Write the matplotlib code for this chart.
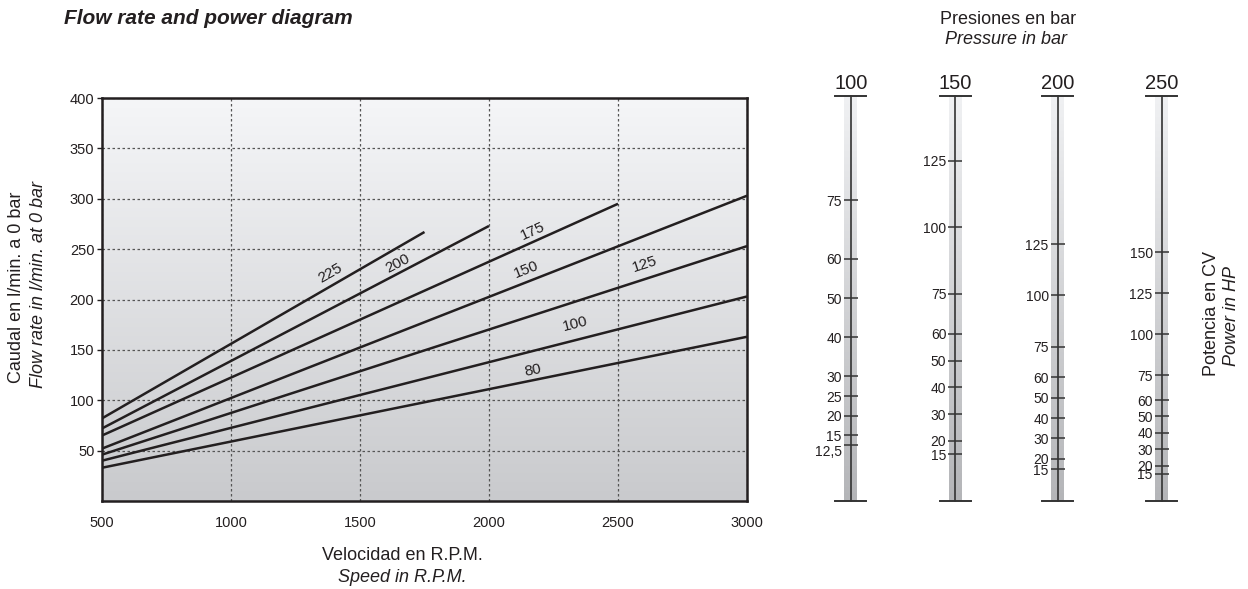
import numpy as np
import matplotlib.pyplot as plt
from matplotlib.colors import LinearSegmentedColormap

plt.rcParams['font.family'] = ['Liberation Sans', 'DejaVu Sans']

# curvas de caudal por presion (bar): caudal en l/min al inicio y al final
curve_pressures = [225, 200, 175, 150, 125, 100, 80]
rpm_start = [500, 500, 500, 500, 500, 500, 500]
rpm_end = [1750, 2000, 2500, 3000, 3000, 3000, 3000]
flow_start = [82, 72, 65, 52, 46, 40, 33]
flow_end = [267, 273, 295, 303, 253, 203, 163]

# donde va la etiqueta de cada curva
label_rpm = [1384, 1646, 2170, 2146, 2605, 2336, 2172]
label_flow = [226, 236, 268, 230, 235, 176, 130]

x_ticks = [500, 1000, 1500, 2000, 2500, 3000]
y_ticks = [50, 100, 150, 200, 250, 300, 350, 400]

# escalas de potencia (CV) para cada presion
scale_pressures = [100, 150, 200, 250]
scale_ticks = [
    [75, 60, 50, 40, 30, 25, 20, 15, 12.5],
    [125, 100, 75, 60, 50, 40, 30, 20, 15],
    [125, 100, 75, 60, 50, 40, 30, 20, 15],
    [150, 125, 100, 75, 60, 50, 40, 30, 20, 15],
]

# layout (pixeles)
W, H = 1248, 589
scale_cx = [850.7, 955.3, 1057.7, 1161.7]
scale_lim = [(-1.8, 101.6), (-2.6, 149.2), (-0.6, 197.6), (-1.5, 245.3)]
ink = '#231f20'


def px_rect(left, top, right, bottom):
    return [left / W, 1 - bottom / H, (right - left) / W, (bottom - top) / H]


fig = plt.figure(figsize=(W / 100, H / 100), dpi=100)

bg_cmap = LinearSegmentedColormap.from_list('bg', ['#f5f6f8', '#c9cacd'])
strip_cmap = LinearSegmentedColormap.from_list('strip', ['#f0f1f3', '#b4b5b8'])
grad = np.linspace(0, 1, 256).reshape(-1, 1)

# grafico principal
ax = fig.add_axes(px_rect(102, 98, 747, 501))
ax.imshow(grad, cmap=bg_cmap, aspect='auto', extent=[500, 3000, 0, 400],
          origin='upper', zorder=0)
ax.set_xlim(500, 3000)
ax.set_ylim(0, 400)
ax.set_xticks(x_ticks)
ax.set_yticks(y_ticks)
ax.grid(True, color='#555555', linestyle=(0, (2, 2)), linewidth=0.9)
ax.tick_params(axis='x', length=0, pad=11, labelsize=10.5, labelcolor=ink)
ax.tick_params(axis='y', length=3.5, width=1, pad=2, labelsize=10.5,
               labelcolor=ink, color=ink)
for sp in ax.spines.values():
    sp.set_linewidth(1.8)
    sp.set_color(ink)

for i, p in enumerate(curve_pressures):
    ax.plot([rpm_start[i], rpm_end[i]], [flow_start[i], flow_end[i]],
            color=ink, lw=1.8, solid_capstyle='butt', zorder=3)
    p1 = ax.transData.transform((rpm_start[i], flow_start[i]))
    p2 = ax.transData.transform((rpm_end[i], flow_end[i]))
    ang = np.degrees(np.arctan2(p2[1] - p1[1], p2[0] - p1[0]))
    ax.text(label_rpm[i], label_flow[i], str(p), rotation=ang,
            rotation_mode='anchor', ha='center', va='center',
            fontsize=11, color=ink, zorder=4)

# escalas de potencia
for i, p in enumerate(scale_pressures):
    cx = scale_cx[i]
    sax = fig.add_axes(px_rect(cx - 6.5, 96, cx + 6.5, 501))
    lo, hi = scale_lim[i]
    sax.imshow(grad, cmap=strip_cmap, aspect='auto', extent=[0, 1, lo, hi],
               origin='upper', zorder=0)
    sax.set_xlim(0, 1)
    sax.set_ylim(lo, hi)
    sax.set_xticks([])
    for name in ['top', 'bottom', 'right']:
        sax.spines[name].set_visible(False)
    sax.spines['left'].set_position(('axes', 0.5))
    sax.spines['left'].set_color('#333333')
    sax.spines['left'].set_linewidth(1.2)
    sax.set_yticks(scale_ticks[i])
    sax.set_yticklabels([str(t).replace('.', ',') for t in scale_ticks[i]])
    sax.tick_params(axis='y', direction='inout', length=9.5, width=1.1,
                    pad=1.7, labelsize=10, color='#333333', labelcolor=ink)
    # la ultima etiqueta ("12,5") va un poco por debajo de su marca
    if scale_ticks[i][-1] == 12.5:
        sax.get_yticklabels()[-1].set_va('top')
    for yy in [0, 1]:
        sax.plot([-0.69, 1.69], [yy, yy], transform=sax.transAxes,
                 clip_on=False, color='#333333', lw=1.4)
    sax.annotate(str(p), xy=(0.5, 1), xycoords='axes fraction',
                 xytext=(0, 4.7), textcoords='offset points', ha='center',
                 va='baseline', fontsize=14.5, color=ink)

# textos
fig.text(64 / W, 1 - 18 / H, 'Flow rate and power diagram', fontsize=15,
         fontweight='bold', fontstyle='italic', ha='left', va='center', color=ink)
fig.text(1008 / W, 1 - 19 / H, 'Presiones en bar', fontsize=13,
         ha='center', va='center', color=ink)
fig.text(1006 / W, 1 - 40 / H, 'Pressure in bar', fontsize=13,
         fontstyle='italic', ha='center', va='center', color=ink)
fig.text(17 / W, 1 - 287 / H, 'Caudal en l/min. a 0 bar', fontsize=13,
         rotation=90, ha='center', va='center', color=ink)
fig.text(39 / W, 1 - 285 / H, 'Flow rate in l/min. at 0 bar', fontsize=13,
         fontstyle='italic', rotation=90, ha='center', va='center', color=ink)
fig.text(402 / W, 1 - 555 / H, 'Velocidad en R.P.M.', fontsize=13,
         ha='center', va='center', color=ink)
fig.text(402 / W, 1 - 577 / H, 'Speed in R.P.M.', fontsize=13,
         fontstyle='italic', ha='center', va='center', color=ink)
fig.text(1212 / W, 1 - 313 / H, 'Potencia en CV', fontsize=13,
         rotation=90, ha='center', va='center', color=ink)
fig.text(1232 / W, 1 - 316 / H, 'Power in HP', fontsize=13,
         fontstyle='italic', rotation=90, ha='center', va='center', color=ink)

fig.savefig('out.png', dpi=100)
